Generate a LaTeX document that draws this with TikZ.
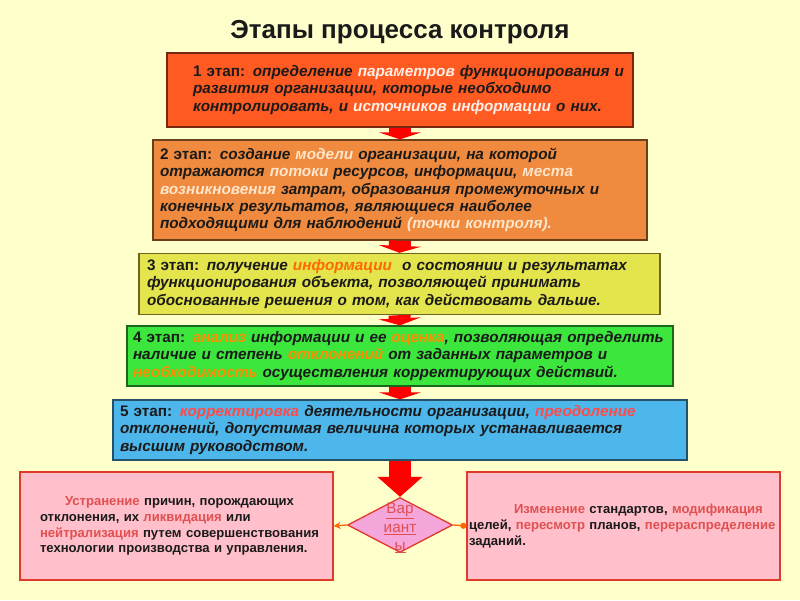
\documentclass[tikz,border=0pt]{standalone}
\usepackage{fontspec}
\setmainfont{Liberation Sans}
\usetikzlibrary{arrows.meta,shapes.geometric}
\definecolor{bg}{HTML}{FFFFCC}
\definecolor{cA}{HTML}{FF5A22}
\definecolor{cB}{HTML}{EF8A3E}
\definecolor{cC}{HTML}{E4E44C}
\definecolor{cD}{HTML}{3CE63C}
\definecolor{cE}{HTML}{4DB6EA}
\definecolor{pinkbox}{HTML}{FFC0CB}
\definecolor{redline}{HTML}{E03A2A}
\definecolor{txt}{HTML}{1A1A1A}
\definecolor{hA}{HTML}{FFF0E8}
\definecolor{hB}{HTML}{FFE6CC}
\definecolor{hC}{HTML}{FF6A00}
\definecolor{hD}{HTML}{FF8C00}
\definecolor{hE}{HTML}{FF4A4A}
\definecolor{hF}{HTML}{E05050}
\definecolor{dia}{HTML}{F5A6DA}
\tikzset{
  stage/.style={draw=#1!45!black, fill=#1, line width=1.3pt, align=left, anchor=center,
    inner ysep=0pt, text=txt, font=\bfseries\itshape\fontsize{15.3}{17.4}\selectfont},
  sidebox/.style={draw=redline, fill=pinkbox, line width=1.3pt, align=left, inner ysep=0pt,
    text=txt, font=\bfseries\fontsize{13.1}{15.8}\selectfont},
  smallarrow/.style={draw=red, line width=22pt, -{Triangle[width=42pt,length=7pt]}},
  bigarrow/.style={draw=red, line width=22pt, -{Triangle[width=44pt,length=20pt]}},
}
\begin{document}
\begin{tikzpicture}[x=1pt,y=-1pt]
\fill[bg] (0,0) rectangle (800,600);
\useasboundingbox (0,0) rectangle (800,600);
\node[font=\bfseries\fontsize{26}{28}\selectfont, text=txt] (title) at (400,32) {Этапы процесса контроля};

\node[stage=cA, minimum width=466pt, minimum height=74pt, text width=414pt, inner xsep=26pt] (b1) at (400,90)
{\mbox{{\upshape 1 этап:} определение \textcolor{hA}{параметров} функционирования и}\\
\mbox{развития организации, которые необходимо}\\
\mbox{контролировать, и \textcolor{hA}{источников информации} о них.}};

\node[stage=cB, minimum width=494pt, minimum height=100pt, text width=480pt, inner xsep=7pt] (b2) at (400,190)
{\mbox{{\upshape 2 этап:} создание \textcolor{hB}{модели} организации, на которой}\\
\mbox{отражаются \textcolor{hB}{потоки} ресурсов, информации, \textcolor{hB}{места}}\\
\mbox{\textcolor{hB}{возникновения} затрат, образования промежуточных и}\\
\mbox{конечных результатов, являющиеся наиболее}\\
\mbox{подходящими для наблюдений \textcolor{hB}{(точки контроля).}}};

\node[stage=cC, minimum width=521pt, minimum height=61pt, text width=505pt, inner xsep=8pt] (b3) at (399.5,284)
{\mbox{{\upshape 3 этап:} получение \textcolor{hC}{информации}\ \ о состоянии и результатах}\\
\mbox{функционирования объекта, позволяющей принимать}\\
\mbox{обоснованные решения о том, как действовать дальше.}};

\node[stage=cD, minimum width=546pt, minimum height=60pt, text width=534pt, inner xsep=6pt] (b4) at (400,356)
{\mbox{{\upshape 4 этап:} \textcolor{hD}{анализ} информации и ее \textcolor{hD}{оценка}, позволяющая определить}\\
\mbox{наличие и степень \textcolor{hD}{отклонений} от заданных параметров и}\\
\mbox{\textcolor{hD}{необходимость} осуществления корректирующих действий.}};

\node[stage=cE, minimum width=574pt, minimum height=60pt, text width=560pt, inner xsep=7pt] (b5) at (400,430)
{\mbox{{\upshape 5 этап:} \textcolor{hE}{корректировка} деятельности организации, \textcolor{hE}{преодоление}}\\
\mbox{отклонений, допустимая величина которых устанавливается}\\
\mbox{высшим руководством.}};

\node[sidebox, minimum width=313pt, minimum height=108pt, text width=273pt, inner xsep=20pt] (lb) at (176.5,526)
{\mbox{\hspace*{25pt}\textcolor{hF}{Устранение} причин, порождающих}\\
\mbox{отклонения, их \textcolor{hF}{ликвидация} или}\\
\mbox{\textcolor{hF}{нейтрализация} путем совершенствования}\\
\mbox{технологии производства и управления.}};

\node[sidebox, minimum width=313pt, minimum height=108pt, text width=309pt, inner xsep=2pt] (rb) at (623.5,526)
{\mbox{\hspace*{45pt}\textcolor{hF}{Изменение} стандартов, \textcolor{hF}{модификация}}\\
\mbox{целей, \textcolor{hF}{пересмотр} планов, \textcolor{hF}{перераспределение}}\\
\mbox{заданий.}};

\node[diamond, draw=redline, fill=dia, line width=1.3pt, minimum width=105pt, minimum height=55pt, inner sep=0pt] (dm) at (400,525) {};
\node[text=hF, align=center, font=\fontsize{15.3}{18.5}\selectfont] (dt) at (400,528)
{\underline{Вар}\\ \underline{иант}\\ \underline{ы}};

\draw[smallarrow] (b1.south) -- (b2.north);
\draw[smallarrow] (b2.south) -- (b3.north);
\draw[smallarrow] (b3.south) -- (b4.north);
\draw[smallarrow] (b4.south) -- (b5.north);
\draw[bigarrow] (b5.south) -- (dm.north);
\draw[line width=1.3pt, -{Stealth[length=7pt,width=7pt]}, color=orange!80!red] (dm.west) -- (lb.east);
\draw[line width=1.3pt, -{Circle[length=6pt]}, color=orange!80!red] (dm.east) -- (rb.west);
\end{tikzpicture}
\end{document}
